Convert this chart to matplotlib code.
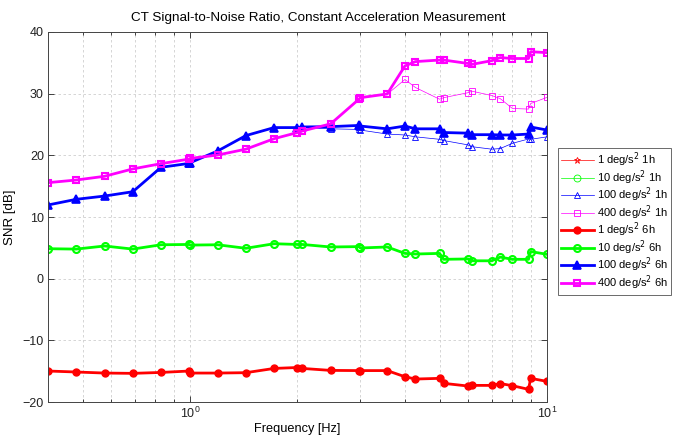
import numpy as np
import matplotlib
matplotlib.use("Agg")
import matplotlib.pyplot as plt
from matplotlib.ticker import LogLocator, NullFormatter

plt.rcParams['font.family'] = ['Liberation Sans', 'DejaVu Sans']

# frequencies [Hz]
freq = [0.4, 0.48, 0.576, 0.6912, 0.8294, 0.9953, 1.0, 1.1944, 1.4333, 1.7199,
        2.0, 2.0639, 2.4767, 2.972, 3.0, 3.5664, 4.0, 4.2797, 5.0, 5.1356,
        6.0, 6.1628, 7.0, 7.3953, 8.0, 8.8744, 9.0, 10.0]

# 6h measurements
snr_1_6h = [-14.97, -15.13, -15.3, -15.35, -15.2, -14.97, -15.3, -15.3, -15.24, -14.55,
            -14.4, -14.55, -14.87, -14.9, -14.9, -14.9, -15.9, -16.27, -16.16, -16.97,
            -17.4, -17.3, -17.3, -17.0, -17.35, -17.94, -16.16, -16.65]
snr_10_6h = [4.86, 4.8, 5.3, 4.8, 5.5, 5.55, 5.45, 5.5, 4.93, 5.67,
             5.55, 5.55, 5.14, 5.2, 4.98, 5.14, 4.1, 4.0, 4.1, 3.14,
             3.2, 2.9, 2.9, 3.5, 3.14, 3.14, 4.4, 3.95]
snr_100_6h = [11.95, 12.87, 13.4, 14.1, 18.06, 18.7, 18.8, 20.7, 23.2, 24.5,
              24.5, 24.6, 24.65, 24.85, 24.75, 24.3, 24.75, 24.3, 24.3, 23.7,
              23.6, 23.35, 23.35, 23.3, 23.3, 23.45, 24.6, 24.1]
snr_400_6h = [15.57, 16.0, 16.6, 17.8, 18.65, 19.4, 19.5, 20.05, 21.0, 22.7,
              23.7, 23.95, 25.1, 29.1, 29.35, 29.95, 34.5, 35.2, 35.45, 35.45,
              34.9, 34.75, 35.35, 35.85, 35.7, 35.7, 36.8, 36.65]

# 1h measurements
snr_1_1h = [-14.97, -15.13, -15.3, -15.35, -15.2, -14.97, -15.3, -15.3, -15.24, -14.55,
            -14.4, -14.55, -14.87, -14.9, -14.9, -14.9, -15.9, -16.27, -16.16, -16.97,
            -17.4, -17.3, -17.3, -17.0, -17.35, -17.94, -16.16, -16.65]
snr_10_1h = [4.86, 4.8, 5.3, 4.8, 5.5, 5.55, 5.45, 5.5, 4.93, 5.67,
             5.55, 5.55, 5.14, 5.2, 4.98, 5.14, 4.1, 4.0, 4.1, 3.14,
             3.2, 2.9, 2.9, 3.5, 3.14, 3.14, 4.4, 3.95]
snr_100_1h = [11.95, 12.87, 13.4, 14.1, 18.06, 18.7, 18.8, 20.7, 23.2, 24.5,
              24.5, 24.5, 24.3, 24.2, 24.1, 23.45, 23.3, 23.0, 22.6, 22.4,
              21.7, 21.4, 21.0, 21.1, 21.95, 22.65, 22.6, 23.0]
snr_400_1h = [15.57, 16.0, 16.6, 17.8, 18.65, 19.4, 19.5, 20.05, 21.0, 22.7,
              23.7, 23.95, 25.1, 29.1, 29.35, 29.9, 32.3, 31.0, 29.1, 29.35,
              30.15, 30.4, 29.7, 29.2, 27.6, 27.5, 28.4, 29.4]

labels = ['1 deg/s$^2$ 1h', '10 deg/s$^2$ 1h', '100 deg/s$^2$ 1h', '400 deg/s$^2$ 1h',
          '1 deg/s$^2$ 6h', '10 deg/s$^2$ 6h', '100 deg/s$^2$ 6h', '400 deg/s$^2$ 6h']
colors = ['#ff0000', '#00ff00', '#0000ff', '#ff00ff']

fig = plt.figure(figsize=(6.73, 4.37), dpi=100)
ax = fig.add_axes([0.0713, 0.080, 0.7415, 0.8468])

# thin 1h lines
thin = [(snr_1_1h, '*'), (snr_10_1h, 'o'), (snr_100_1h, '^'), (snr_400_1h, 's')]
for (vals, mk), c, lab in zip(thin, colors, labels[:4]):
    ax.plot(freq, vals, color=c, lw=0.5, marker=mk, ms=5, mfc='none',
            mew=0.6, label=lab)

# thick 6h lines
ax.plot(freq, snr_1_6h, color=colors[0], lw=2, marker='.', ms=10,
        label=labels[4])
ax.plot(freq, snr_10_6h, color=colors[1], lw=2, marker='o', ms=5,
        mfc='none', mew=1.5, label=labels[5])
ax.plot(freq, snr_100_6h, color=colors[2], lw=2, marker='^', ms=5.5,
        mfc=colors[2], mew=1.2, label=labels[6])
ax.plot(freq, snr_400_6h, color=colors[3], lw=2, marker='s', ms=5,
        mfc='none', mew=1.5, label=labels[7])

ax.set_xscale('log')
ax.set_xlim(0.4, 10)
ax.set_ylim(-20, 40)
ax.set_yticks(np.arange(-20, 41, 10))
ax.xaxis.set_major_locator(LogLocator(base=10, numticks=10))
ax.xaxis.set_minor_locator(LogLocator(base=10, subs=np.arange(2, 10), numticks=20))
ax.xaxis.set_minor_formatter(NullFormatter())

ax.grid(True, which='major', color='#cfcfcf', ls=(0, (3, 3)), lw=0.6)
ax.grid(True, which='minor', axis='x', color='#cfcfcf', ls=(0, (3, 3)), lw=0.6)
ax.set_axisbelow(True)

ax.tick_params(which='both', direction='in', top=True, right=True,
               labelsize=9, colors='#222222', pad=3)
ax.tick_params(which='major', length=4, width=0.6)
ax.tick_params(which='minor', length=2.5, width=0.6)
for sp in ax.spines.values():
    sp.set_color('#444444')
    sp.set_linewidth(0.7)

ax.set_xlabel('Frequency [Hz]', fontsize=9.2, labelpad=1)
ax.set_ylabel('SNR [dB]', fontsize=9.5)
ax.yaxis.set_label_coords(-0.065, 0.5)
fig.text(318 / 673, 1 - 18 / 437,
         'CT Signal-to-Noise Ratio, Constant Acceleration Measurement',
         fontsize=9.7, ha='center', va='center')

leg = ax.legend(loc='upper left', bbox_to_anchor=(558 / 673, 1 - 148 / 437),
                bbox_transform=fig.transFigure, fontsize=8, frameon=True,
                fancybox=False, borderpad=0.25, labelspacing=-0.1,
                handlelength=3.0, handletextpad=0.3, borderaxespad=0)
leg.get_frame().set_edgecolor('#444444')
leg.get_frame().set_linewidth(0.7)

fig.savefig('out.png', dpi=100)
